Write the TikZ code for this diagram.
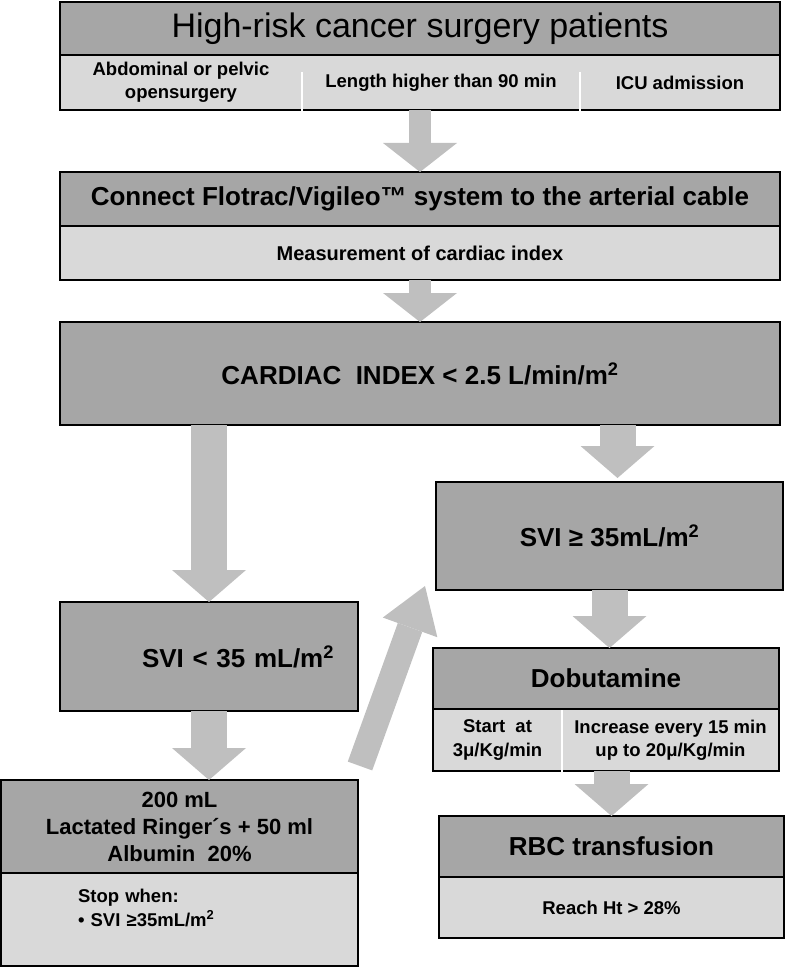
\documentclass[tikz,border=0pt]{standalone}
\usepackage{fontspec}
\setmainfont{Liberation Sans}
\usepackage{tikz}
\usetikzlibrary{
  arrows.meta,
  calc,
  positioning,
}
\definecolor{boxdark}{RGB}{166, 166, 166}
\definecolor{boxlight}{RGB}{217, 217, 217}
\definecolor{arrowgray}{RGB}{191, 191, 191}
\tikzstyle{hdr} = [
  draw,
  rectangle,
  line width=1.5pt,
  fill=boxdark,
  outer sep=0pt,
  inner sep=2pt,
  align=center,
  font=\bfseries\fontsize{26}{30}\selectfont,
]
\tikzstyle{cell} = [
  draw,
  rectangle,
  line width=1.5pt,
  fill=boxlight,
  outer sep=0pt,
  inner sep=2pt,
  align=center,
  font=\bfseries\fontsize{18.5}{23.5}\selectfont,
]
\tikzstyle{rowcell} = [
  cell,
  draw=none,
]
\tikzstyle{frame} = [
  black,
  line width=1.5pt,
]
\tikzstyle{divider} = [
  white,
  line width=1.5pt,
]
\tikzstyle{slimarrow} = [
  -{Triangle[width=74pt,length=29pt,line width=0pt]},
  draw=arrowgray,
  line width=22pt,
]
\tikzstyle{blockarrow} = [
  -{Triangle[width=74pt,length=32pt,line width=0pt]},
  draw=arrowgray,
  line width=36pt,
]
\tikzstyle{diagarrow} = [
  -{Triangle[width=58pt,length=44pt,line width=0pt]},
  draw=arrowgray,
  line width=26pt,
]

\begin{document}
\begin{tikzpicture}[x=1pt,y=1pt,node distance=0mm and 0mm]
        \useasboundingbox (0,0) rectangle (787,-968);

        \node[hdr,minimum width=720,minimum height=53,font=\fontsize{34}{40}\selectfont]    (pat)   at (420,-28.5)  {High-risk cancer surgery patients};
        \node[rowcell,minimum width=242,minimum height=55,anchor=north west]    (pat1)  at (pat.south west)  {Abdominal or pelvic\\opensurgery};
        \node[rowcell,minimum width=278,minimum height=55]    (pat2)  [right=of pat1]  {Length higher than 90 min};
        \node[rowcell,minimum width=200,minimum height=55]    (pat3)  [right=of pat2]  {ICU admission};
        \draw[frame] (pat1.north west) rectangle (pat3.south east);
        \draw[divider] ([yshift=-17]pat1.north east) -- ([yshift=-1]pat1.south east);
        \draw[divider] ([yshift=-17]pat2.north east) -- ([yshift=-1]pat2.south east);

        \node[hdr,minimum width=720,minimum height=54]    (flo)   at (420,-199)  {Connect Flotrac/Vigileo™ system to the arterial cable};
        \node[cell,minimum width=720,minimum height=54,font=\bfseries\fontsize{20}{24}\selectfont]    (flo1)  [below=of flo]  {Measurement of cardiac index};

        \node[hdr,minimum width=720,minimum height=103]    (ci)   at (420,-373.5)  {CARDIAC\ \ INDEX < 2.5 L/min/m\textsuperscript{2}};

        \node[hdr,minimum width=347,minimum height=108]    (svihigh)   at (609.5,-536)  {SVI ≥ 35mL/m\textsuperscript{2}};
        \node[hdr,minimum width=298,minimum height=109,text width=250,align=right]    (svilow)   at (209,-656.5)  {SVI < 35 mL/m\textsuperscript{2}};

        \node[hdr,minimum width=346,minimum height=61]    (dobu)   at (606,-678.5)  {Dobutamine};
        \node[rowcell,minimum width=129,minimum height=62,anchor=north west]    (dobu1)  at (dobu.south west)  {Start\ \ at\\3μ/Kg/min};
        \node[rowcell,minimum width=217,minimum height=62]    (dobu2)  [right=of dobu1]  {Increase every 15 min\\up to 20μ/Kg/min};
        \draw[frame] (dobu1.north west) rectangle (dobu2.south east);
        \draw[divider] ([yshift=-1]dobu1.north east) -- ([yshift=-1]dobu1.south east);

        \node[hdr,minimum width=345,minimum height=61]    (rbc)   at (611.5,-846.5)  {RBC transfusion};
        \node[cell,minimum width=345,minimum height=61]    (rbc1)  [below=of rbc]  {Reach Ht > 28\%};

        \node[hdr,minimum width=357,minimum height=93,font=\bfseries\fontsize{22}{27}\selectfont]    (fluid)   at (179.5,-826.5)  {200 mL\\Lactated Ringer´s + 50 ml\\Albumin\ \ 20\%};
        \node[cell,minimum width=357,minimum height=93,text width=203,align=left]    (fluid1)  [below=of fluid]  {Stop when:\\\textbullet\ SVI ≥35mL/m\textsuperscript{2}\\\mbox{}};

        \draw[slimarrow] (pat.south |- pat2.south) -- (flo.north);
        \draw[slimarrow] (flo1.south) -- (ci.north);
        \draw[blockarrow] (svilow.north |- ci.south) -- (svilow.north);
        \draw[blockarrow] ([xshift=8]svihigh.north |- ci.south) -- ([xshift=8,yshift=4]svihigh.north);
        \draw[blockarrow] (svihigh.south) -- (svihigh.south |- dobu.north);
        \draw[blockarrow] (rbc.north |- dobu1.south) -- (rbc.north);
        \draw[blockarrow] (svilow.south) -- (svilow.south |- fluid.north);
        \draw[diagarrow] ([xshift=2,yshift=14]fluid.north east) -- ([xshift=-11,yshift=4]svihigh.south west);
    \end{tikzpicture}
\end{document}
